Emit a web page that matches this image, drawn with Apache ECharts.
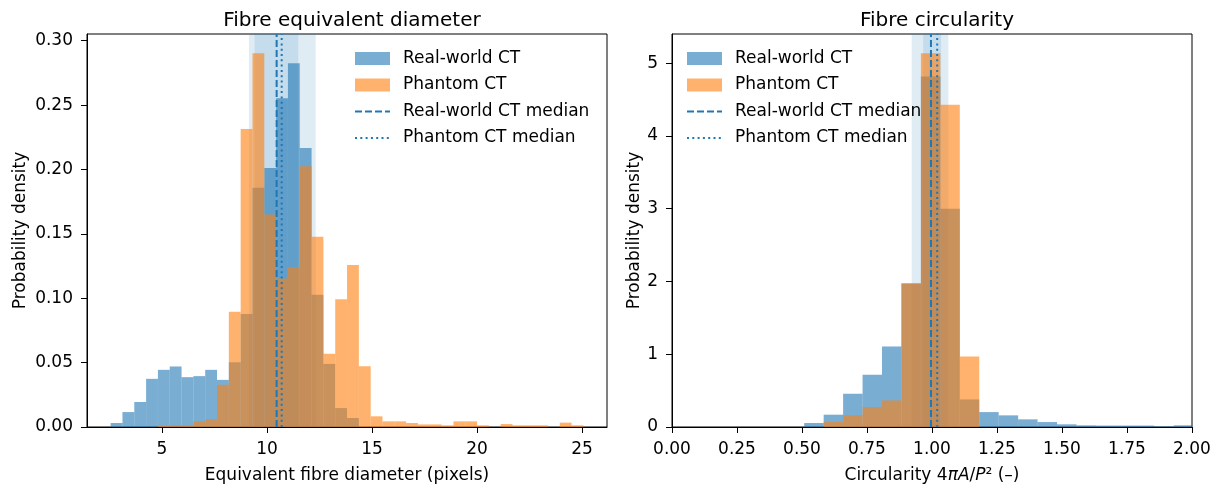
<!DOCTYPE html>
<html>
<head>
<meta charset="utf-8">
<script src="https://cdn.jsdelivr.net/npm/echarts@6/dist/echarts.min.js"></script>
<style>
html, body { margin: 0; padding: 0; background: #fff; }
#main { width: 1216px; height: 489px; }
</style>
</head>
<body>
<div id="main"></div>
<script>
// left panel: equivalent diameter, 40 shared bins
var diamBinStart = 2.556;
var diamBinWidth = 0.5628;
var diamReal = [0.0031, 0.0116, 0.0194, 0.0374, 0.0444, 0.047, 0.0387, 0.0395, 0.0444, 0.0366,
  0.0503, 0.0877, 0.1858, 0.2012, 0.2554, 0.2825, 0.2167, 0.1027, 0.049, 0.0147,
  0.007, 0, 0, 0, 0, 0, 0, 0, 0, 0,
  0, 0, 0, 0, 0, 0, 0, 0, 0, 0];
var diamPhantom = [0, 0, 0, 0, 0.0008, 0.0013, 0.0013, 0.0044, 0.006, 0.0328,
  0.0895, 0.2314, 0.2903, 0.1651, 0.1153, 0.1238, 0.2025, 0.1478, 0.0568, 0.0993,
  0.1259, 0.0472, 0.0083, 0.0044, 0.0044, 0.0031, 0.002, 0.002, 0.0013, 0.0044,
  0.0044, 0.0013, 0, 0.0023, 0.0013, 0.0013, 0.0013, 0, 0.0034, 0.0013];
var diamMedians = [10.46, 10.70];          // real-world, phantom
var diamIqr = [[9.41, 11.49], [9.14, 12.32]];
var diamXTicks = [5, 10, 15, 20, 25];
var diamYTicks = [0, 0.05, 0.10, 0.15, 0.20, 0.25, 0.30];

// right panel: circularity, 20 bins
var circBinStart = 0.5085;
var circBinWidth = 0.0748;
var circReal = [0.055, 0.169, 0.457, 0.717, 1.105, 1.97, 4.817, 3.0, 0.379, 0.205,
  0.16, 0.105, 0.068, 0.037, 0.023, 0.02, 0.02, 0.02, 0.008, 0.023];
var circPhantom = [0, 0.07, 0.16, 0.274, 0.365, 1.98, 5.137, 4.429, 0.968, 0,
  0, 0, 0, 0, 0, 0, 0, 0, 0, 0];
var circMedians = [0.996, 1.02];
var circIqr = [[0.966, 1.035], [0.922, 1.063]];
var circXTicks = [0, 0.25, 0.5, 0.75, 1.0, 1.25, 1.5, 1.75, 2.0];
var circYTicks = [0, 1, 2, 3, 4, 5];

var BLUE = 'rgba(31,119,180,0.6)';
var ORANGE = 'rgba(255,127,14,0.6)';
var LINE = '#1f77b4';
var BAND = 'rgba(31,119,180,0.14)';
var FS = 17;

var diamY = [0, 0.3052];
var circY = [0, 5.401];

function hist(name, heights, start, width, color, idx) {
  return {
    name: name,
    type: 'custom',
    xAxisIndex: idx,
    yAxisIndex: idx,
    z: 1,
    itemStyle: { color: color },
    encode: { x: [0, 1], y: 2 },
    data: heights.map(function (h, i) {
      return [start + i * width, start + (i + 1) * width, h];
    }),
    renderItem: function (params, api) {
      var a = api.coord([api.value(0), api.value(2)]);
      var b = api.coord([api.value(1), 0]);
      var cs = params.coordSys;
      var r = echarts.graphic.clipRectByRect(
        { x: a[0], y: a[1], width: b[0] - a[0], height: b[1] - a[1] },
        { x: cs.x, y: cs.y, width: cs.width, height: cs.height });
      return r && { type: 'rect', shape: r, style: { fill: color } };
    }
  };
}

function median(name, x, yr, dash, idx, bands) {
  var s = {
    name: name,
    type: 'line',
    xAxisIndex: idx,
    yAxisIndex: idx,
    z: 3,
    symbol: 'none',
    silent: true,
    itemStyle: { color: LINE },
    lineStyle: { color: LINE, width: 2, type: dash },
    data: [[x, yr[0]], [x, yr[1]]]
  };
  if (bands) {
    s.markArea = {
      silent: true,
      itemStyle: { color: BAND },
      data: bands.map(function (b) { return [{ xAxis: b[0] }, { xAxis: b[1] }]; })
    };
  }
  return s;
}

function xAxis(idx, min, max, ticks, fmt, name) {
  return {
    type: 'value', gridIndex: idx, min: min, max: max,
    axisLine: { show: true, onZero: false, lineStyle: { color: '#000', width: 1 } },
    axisTick: { show: true, length: 6, customValues: ticks, lineStyle: { color: '#000' } },
    axisLabel: { customValues: ticks, fontSize: FS, color: '#000', margin: 14, formatter: fmt },
    splitLine: { show: false },
    name: name, nameLocation: 'middle', nameGap: 40,
    nameTextStyle: { fontSize: FS, color: '#000', rich: { i: { fontSize: FS, fontStyle: 'italic', color: '#000' } } }
  };
}

function yAxis(idx, range, ticks, fmt, gap) {
  return {
    type: 'value', gridIndex: idx, min: range[0], max: range[1],
    axisLine: { show: true, onZero: false, lineStyle: { color: '#000', width: 1 } },
    axisTick: { show: true, length: 6, customValues: ticks, lineStyle: { color: '#000' } },
    axisLabel: { customValues: ticks, fontSize: FS, color: '#000', margin: 14, formatter: fmt },
    splitLine: { show: false },
    name: 'Probability density', nameLocation: 'middle', nameGap: gap,
    nameTextStyle: { fontSize: FS, color: '#000' }
  };
}

function legend(left) {
  return {
    orient: 'vertical', left: left, top: 45,
    itemWidth: 35, itemHeight: 13, itemGap: 9.5,
    selectedMode: false,
    textStyle: { fontSize: FS, color: '#000', lineHeight: 17, padding: [0, 0, 0, 8] },
    data: [
      { name: 'Real-world CT', icon: 'rect' },
      { name: 'Phantom CT', icon: 'rect' },
      { name: 'Real-world CT median', itemStyle: { opacity: 0 } },
      { name: 'Phantom CT median', itemStyle: { opacity: 0 } }
    ]
  };
}

var chart = echarts.init(document.getElementById('main'));
chart.setOption({
  animation: false,
  textStyle: { fontFamily: 'DejaVu Sans' },
  title: [
    { text: 'Fibre equivalent diameter', left: 347, top: 6, textAlign: 'center',
      textStyle: { fontSize: 20, fontWeight: 'normal', color: '#000' } },
    { text: 'Fibre circularity', left: 932, top: 6, textAlign: 'center',
      textStyle: { fontSize: 20, fontWeight: 'normal', color: '#000' } }
  ],
  legend: [legend(349), legend(681)],
  grid: [
    { left: 87, top: 34, width: 520, height: 394, show: true, borderColor: '#000', borderWidth: 1, backgroundColor: 'transparent' },
    { left: 672, top: 34, width: 520, height: 394, show: true, borderColor: '#000', borderWidth: 1, backgroundColor: 'transparent' }
  ],
  xAxis: [
    xAxis(0, 1.43, 26.19, diamXTicks, function (v) { return String(v); }, 'Equivalent fibre diameter (pixels)'),
    xAxis(1, 0, 2, circXTicks, function (v) { return v.toFixed(2); }, 'Circularity 4{i|πA}/{i|P}² (–)')
  ],
  yAxis: [
    yAxis(0, diamY, diamYTicks, function (v) { return v.toFixed(2); }, 58),
    yAxis(1, circY, circYTicks, function (v) { return String(v); }, 20)
  ],
  series: [
    hist('Real-world CT', diamReal, diamBinStart, diamBinWidth, BLUE, 0),
    hist('Phantom CT', diamPhantom, diamBinStart, diamBinWidth, ORANGE, 0),
    median('Real-world CT median', diamMedians[0], diamY, [7, 3], 0, diamIqr),
    median('Phantom CT median', diamMedians[1], diamY, [2, 3.3], 0, null),
    hist('Real-world CT', circReal, circBinStart, circBinWidth, BLUE, 1),
    hist('Phantom CT', circPhantom, circBinStart, circBinWidth, ORANGE, 1),
    median('Real-world CT median', circMedians[0], circY, [7, 3], 1, circIqr),
    median('Phantom CT median', circMedians[1], circY, [2, 3.3], 1, null)
  ]
});
</script>
</body>
</html>
